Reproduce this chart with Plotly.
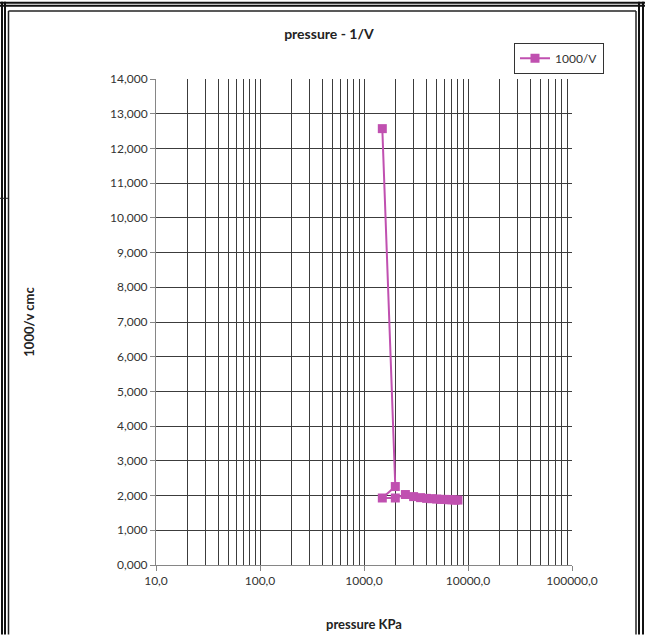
import plotly.graph_objects as go

# pressure (KPa) and 1000/V readings, in measurement order
pressure_kpa = [1500, 2000, 1500, 2000, 2500, 3000, 3500, 4000, 4500, 5000,
                5500, 6000, 6500, 7000, 7500, 8000]
inv_volume = [12.57, 2.26, 1.93, 1.93, 2.03, 1.97, 1.94, 1.92, 1.91, 1.90,
              1.89, 1.89, 1.88, 1.88, 1.87, 1.87]

x_major = [10, 100, 1000, 10000, 100000]
x_minor = [m * 10 ** k for k in range(1, 5) for m in range(2, 10)]

W, H = 645, 642
L, R, T, B = 156, 572, 79, 576  # plot area edges in pixels


def px(x):
    return (x - L) / (R - L)


def py(y):
    return (B - y) / (B - T)


fig = go.Figure()
fig.add_trace(go.Scatter(
    x=pressure_kpa, y=inv_volume, mode="lines+markers", name="1000/V",
    line=dict(color="#C050B0", width=2),
    marker=dict(symbol="square", size=9, color="#C050B0"),
))

grid = "#3c3c3c"
fig.update_xaxes(
    type="log", range=[1, 5],
    tickmode="array", tickvals=x_major, tickformat=".1f",
    showgrid=True, gridcolor=grid, gridwidth=1,
    minor=dict(tickmode="array", tickvals=x_minor, showgrid=True,
               gridcolor=grid, gridwidth=1, ticks=""),
    showline=True, linecolor="#868686", linewidth=1,
    ticks="outside", ticklen=5, tickcolor="#868686",
    tickfont=dict(size=12, color="#333333"),
    title=dict(text="<b>pressure KPa</b>", font=dict(size=13, color="#222222"),
               standoff=32),
    zeroline=False,
)
fig.update_yaxes(
    range=[0, 14], dtick=1, tickformat=".3f",
    showgrid=True, gridcolor=grid, gridwidth=1,
    showline=True, linecolor="#868686", linewidth=1,
    ticks="outside", ticklen=5, tickcolor="#868686",
    tickfont=dict(size=12, color="#333333"),
    title=dict(text="<b>1000/v cmc</b>", font=dict(size=13, color="#222222"),
               standoff=72),
    zeroline=False,
)

frame = []
line_k = dict(color="#111111", width=2)
# outer double border
for xv in (2, 5, 639, 643):
    frame.append(dict(type="line", x0=px(xv), x1=px(xv), y0=py(0), y1=py(H + 5), line=line_k))
for yv in (1, 4):
    frame.append(dict(type="line", x0=px(0), x1=px(W), y0=py(yv), y1=py(yv), line=line_k))
# inner chart border (open at the bottom)
inner = dict(color="#222222", width=1.5)
frame.append(dict(type="line", x0=px(8.5), x1=px(8.5), y0=py(9.5), y1=py(H + 5), line=inner))
frame.append(dict(type="line", x0=px(636), x1=px(636), y0=py(9.5), y1=py(H + 5), line=inner))
frame.append(dict(type="line", x0=px(8.5), x1=px(636), y0=py(9.5), y1=py(9.5), line=inner))
frame.append(dict(type="line", x0=px(0), x1=px(8), y0=py(201), y1=py(201),
                  line=dict(color="#222222", width=1)))
for s in frame:
    s.update(xref="paper", yref="paper", layer="above")

fig.update_layout(
    width=W, height=H,
    margin=dict(l=L, r=W - R, t=T, b=H - B),
    paper_bgcolor="white", plot_bgcolor="white",
    font=dict(family="Lato, Open Sans, sans-serif", color="#333333"),
    separators=",.",
    title=dict(text="<b>pressure - 1/V</b>", x=0.51, xanchor="center",
               y=1 - 34 / H, yanchor="middle",
               font=dict(size=14, color="#222222")),
    showlegend=True,
    legend=dict(x=px(514), y=py(42), xanchor="left", yanchor="top",
                bordercolor="#333333", borderwidth=1, bgcolor="white",
                font=dict(size=12, color="#333333"),
                itemwidth=30, tracegroupgap=0),
    shapes=frame,
)

fig.write_html("out.html")
